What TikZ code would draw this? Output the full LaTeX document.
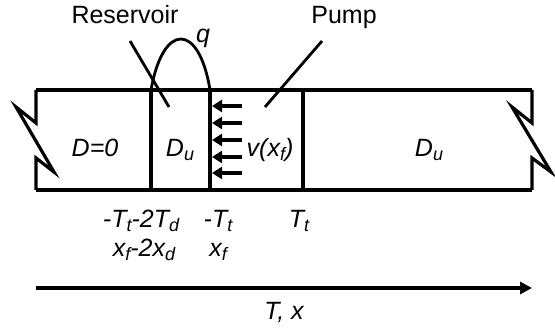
\documentclass[tikz,border=0pt]{standalone}
\usepackage{fontspec}
\setmainfont{Liberation Sans}
\usetikzlibrary{arrows.meta,positioning}
\tikzset{
  wall/.style ={draw,line width=1.6pt},
  ptr/.style  ={draw,line width=1.4pt},
  flow/.style ={draw,line width=1.6pt,-{Triangle[length=5pt,width=6pt]}},
  lbl/.style  ={font=\fontsize{12.5}{14}\selectfont\itshape,anchor=base,inner sep=0pt},
  tag/.style  ={font=\fontsize{12.5}{14}\selectfont,anchor=base,inner sep=0pt},
}
\newcommand{\sbs}[1]{\raisebox{-0.3ex}{\fontsize{9}{10}\selectfont #1}}

\begin{document}
\begin{tikzpicture}[x=0.5pt,y=-0.5pt]
\useasboundingbox (0,0) rectangle (555,335);
  % channel
  \coordinate (tl) at (36,90);
  \coordinate (bl) at (36,190);
  \coordinate (tr) at (532,90);
  \coordinate (br) at (532,190);
  \draw[wall] (tl) -- (tr);
  \draw[wall] (bl) -- (br);
  \draw[wall] (tl) -- (36,123) -- (16,107) -- (54,172) -- (36,158) -- (bl);
  \draw[wall] (tr) -- (532,123) -- (512,107) -- (551,172) -- (532,158) -- (br);
  % fronts
  \coordinate (rt) at (151,90);  \coordinate (rb) at (151,190);
  \coordinate (ft) at (210,90);  \coordinate (fb) at (210,190);
  \coordinate (pt) at (303,90);  \coordinate (pb) at (303,190);
  \draw[wall] (rt) -- (rb);
  \draw[wall] (ft) -- (fb);
  \draw[wall] (pt) -- (pb);
  \foreach \i/\yy in {1/106,2/123,3/140,4/157,5/173}{
    \coordinate (s\i) at (242,\yy);
    \coordinate (e\i) at (212,\yy);
    \draw[flow] (s\i) -- (e\i);
  }
  % labels
  \node[tag] (res)  at (125,24) {Reservoir};
  \node[tag] (pump) at (344,24) {Pump};
  \coordinate (res0) at (130,41);  \coordinate (res1) at (169,107);
  \coordinate (pmp0) at (322,41);  \coordinate (pmp1) at (265,107);
  \draw[ptr] (res0) -- (res1);
  \draw[ptr] (pmp0) -- (pmp1);
  \draw[ptr] (rt) .. controls (163,22) and (199,22) .. (ft);
  \node[lbl] (q)   at (203,43)  {q};
  \node[lbl] (d0)  at (95,157)  {D=0};
  \node[lbl] (du)  at (180,157) {D\sbs{u}};
  \node[lbl] (vf)  at (270,157) {v(x\sbs{f})};
  \node[lbl] (du2) at (429,157) {D\sbs{u}};
  \node[lbl] (tres) at (141,228) {-T\sbs{t}-2T\sbs{d}};
  \node[lbl] (xres) at (144,257) {x\sbs{f}-2x\sbs{d}};
  \node[lbl] (tfr)  at (218,228) {-T\sbs{t}};
  \node[lbl] (xfr)  at (218,257) {x\sbs{f}};
  \node[lbl] (tpm)  at (299,228) {T\sbs{t}};
  % axis
  \coordinate (a0) at (36,288);
  \coordinate (a1) at (532,288);
  \draw[line width=1.6pt,-{Triangle[length=6pt,width=6pt]}] (a0) -- (a1);
  \node[lbl] (ax) at (284,320) {T, x};
\end{tikzpicture}
\end{document}
